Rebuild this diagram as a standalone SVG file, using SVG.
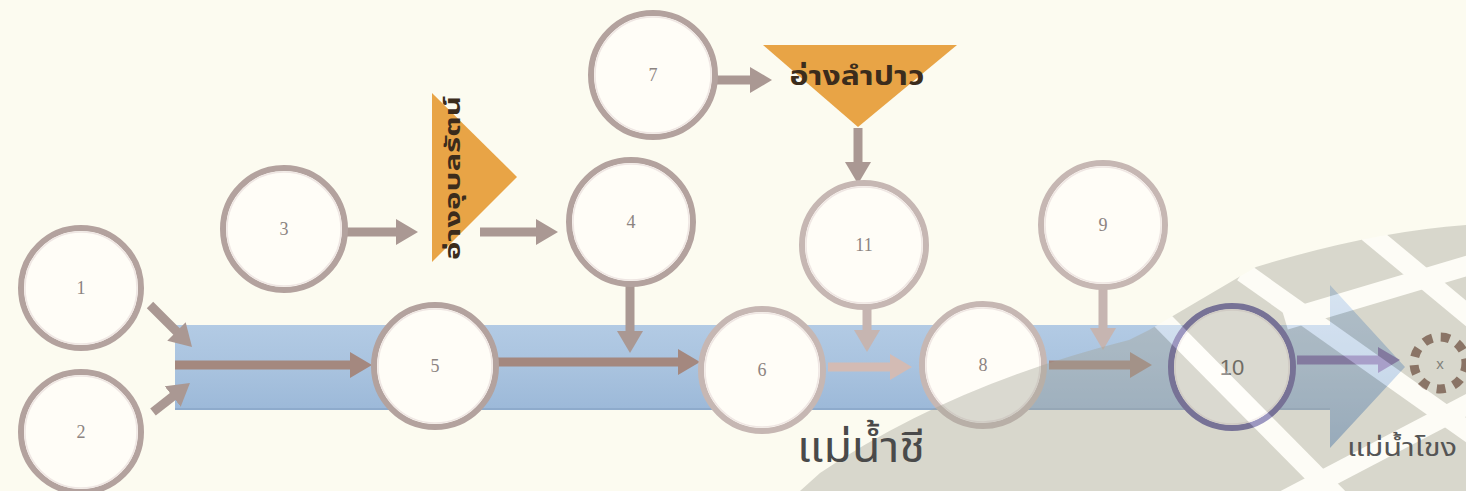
<svg xmlns="http://www.w3.org/2000/svg" width="1466" height="491" viewBox="0 0 1466 491">
<style>
.ring{fill:#fffdf7;stroke:#b3a29e;stroke-width:6}
.ring.lt{stroke:#c6b7b3}
.ring.pu{stroke:#5a5296;stroke-width:6}
.inner{fill:none;stroke:#efe6e3;stroke-width:1.5}
.num{font-family:"Liberation Serif",serif;font-size:18px;fill:#8c8481;text-anchor:middle}
.c{fill:none;stroke-width:9;stroke-linecap:butt}
.g{stroke:#aa9893}
.b{stroke:#a4887f}
.p{stroke:#d3bbb4}
.l{stroke:#c6b5b1}
.v{stroke:#6f60a6}
.th{font-family:"Noto Sans Thai","Noto Sans","DejaVu Sans",sans-serif}
</style>
<defs>
<linearGradient id="band" x1="0" y1="0" x2="0" y2="1">
<stop offset="0" stop-color="#bcd2e9"/>
<stop offset="0.5" stop-color="#a9c3df"/>
<stop offset="1" stop-color="#91b0d3"/>
</linearGradient>
<marker id="mg" markerUnits="userSpaceOnUse" markerWidth="24" markerHeight="26" refX="4" refY="13" orient="auto"><path d="M0,0 L22,13 L0,26 Z" fill="#aa9893"/></marker>
<marker id="mb" markerUnits="userSpaceOnUse" markerWidth="24" markerHeight="26" refX="4" refY="13" orient="auto"><path d="M0,0 L22,13 L0,26 Z" fill="#a4887f"/></marker>
<marker id="mp" markerUnits="userSpaceOnUse" markerWidth="24" markerHeight="26" refX="4" refY="13" orient="auto"><path d="M0,0 L22,13 L0,26 Z" fill="#d3bbb4"/></marker>
<marker id="ml" markerUnits="userSpaceOnUse" markerWidth="24" markerHeight="26" refX="4" refY="13" orient="auto"><path d="M0,0 L22,13 L0,26 Z" fill="#c6b5b1"/></marker>
<marker id="mv" markerUnits="userSpaceOnUse" markerWidth="24" markerHeight="26" refX="4" refY="13" orient="auto"><path d="M0,0 L22,13 L0,26 Z" fill="#6f60a6"/></marker>
<clipPath id="wm"><path d="M800,491 L820,473 Q950,385 1129,340 L1149,330 L1256,267 Q1370,232 1466,225 L1466,491 Z"/></clipPath>
</defs>
<rect width="1466" height="491" fill="#fcfbf0"/>
<g id="river">
<path d="M175,325 H1330 V285 L1405,367 L1330,448 V410 H175 Z" fill="url(#band)"/>
<line x1="175" y1="409" x2="1330" y2="409" stroke="#8eabcc" stroke-width="2"/>
</g>
<g id="connectors">
<line class="c g" x1="150" y1="305" x2="179.3" y2="334.3" marker-end="url(#mg)"/>
<line class="c g" x1="153" y1="412" x2="175.8" y2="394.1" marker-end="url(#mg)"/>
<line class="c b" x1="175" y1="365" x2="354" y2="365" marker-end="url(#mb)"/>
<line class="c b" x1="497" y1="362" x2="682" y2="362" marker-end="url(#mb)"/>
<line class="c g" x1="630" y1="285" x2="630" y2="335" marker-end="url(#mg)"/>
<line class="c p" x1="828" y1="367" x2="894" y2="367" marker-end="url(#mp)"/>
<line class="c l" x1="867" y1="308" x2="867" y2="334" marker-end="url(#ml)"/>
<line class="c b" x1="1049" y1="365" x2="1134" y2="365" marker-end="url(#mb)"/>
<line class="c l" x1="1103" y1="287" x2="1103" y2="332" marker-end="url(#ml)"/>
<line class="c v" x1="1297" y1="360" x2="1382" y2="360" marker-end="url(#mv)"/>
<line class="c g" x1="347" y1="232" x2="400" y2="232" marker-end="url(#mg)"/>
<line class="c g" x1="480" y1="232" x2="540" y2="232" marker-end="url(#mg)"/>
<line class="c g" x1="690" y1="80" x2="754" y2="80" marker-end="url(#mg)"/>
<line class="c g" x1="858" y1="128" x2="858" y2="166" marker-end="url(#mg)"/>
</g>
<g id="node1"><circle class="ring" cx="81" cy="288" r="60"/><circle class="inner" cx="81" cy="288" r="56"/><text class="num" x="81" y="294">1</text></g>
<g id="node2"><circle class="ring" cx="81" cy="432" r="60"/><circle class="inner" cx="81" cy="432" r="56"/><text class="num" x="81" y="438">2</text></g>
<g id="node3"><circle class="ring" cx="284" cy="229" r="61"/><circle class="inner" cx="284" cy="229" r="57"/><text class="num" x="284" y="235">3</text></g>
<g id="node4"><circle class="ring" cx="631" cy="222" r="62"/><circle class="inner" cx="631" cy="222" r="58"/><text class="num" x="631" y="228">4</text></g>
<g id="node5"><circle class="ring" cx="435" cy="366" r="61"/><circle class="inner" cx="435" cy="366" r="57"/><text class="num" x="435" y="372">5</text></g>
<g id="node6"><circle class="ring lt" cx="762" cy="370" r="61"/><circle class="inner" cx="762" cy="370" r="57"/><text class="num" x="762" y="376">6</text></g>
<g id="node7"><circle class="ring" cx="653" cy="75" r="62"/><circle class="inner" cx="653" cy="75" r="58"/><text class="num" x="653" y="81">7</text></g>
<g id="node8"><circle class="ring lt" cx="983" cy="365" r="61"/><circle class="inner" cx="983" cy="365" r="57"/><text class="num" x="983" y="371">8</text></g>
<g id="node9"><circle class="ring lt" cx="1103" cy="225" r="62"/><circle class="inner" cx="1103" cy="225" r="58"/><text class="num" x="1103" y="231">9</text></g>
<g id="node11"><circle class="ring lt" cx="864" cy="245" r="62"/><circle class="inner" cx="864" cy="245" r="58"/><text class="num" x="864" y="251">11</text></g>
<g id="node10"><circle class="ring pu" cx="1232" cy="367" r="61"/><circle class="inner" cx="1232" cy="367" r="57"/><text x="1232" y="375" font-family="Liberation Sans,sans-serif" font-size="22" fill="#4e4944" text-anchor="middle">10</text></g>
<g id="reservoir-ubolratana">
<polygon points="432,93 517,177 432,262" fill="#e8a446"/>
<text class="th" transform="translate(460,178) rotate(-90)" text-anchor="middle" font-size="22" font-weight="bold" fill="#3b2c1c" textLength="164" lengthAdjust="spacingAndGlyphs">อ่างอุบลรัตน์</text>
</g>
<g id="reservoir-lampao">
<polygon points="763,45 957,45 858,127" fill="#e8a446"/>
<text class="th" x="857" y="85" text-anchor="middle" font-size="26" font-weight="bold" fill="#3b2c1c" textLength="135" lengthAdjust="spacingAndGlyphs">อ่างลำปาว</text>
</g>
<g id="node-mekong">
<circle cx="1440" cy="363" r="26" fill="none" stroke="#7b5646" stroke-width="9" stroke-dasharray="9 8.5"/>
<text x="1440" y="369" font-family="Liberation Sans,sans-serif" font-size="15" fill="#6a6a6a" text-anchor="middle">x</text>
</g>
<g id="watermark" opacity="0.4" clip-path="url(#wm)">
<rect x="780" y="200" width="700" height="300" fill="#a3a397"/>
<g stroke="#ffffff" stroke-width="20" fill="none">
<line x1="1160" y1="318" x2="1345" y2="505"/>
<line x1="1243" y1="272" x2="1480" y2="440"/>
<line x1="1368" y1="232" x2="1480" y2="325"/>
<line x1="1285" y1="320" x2="1480" y2="262"/>
<line x1="1285" y1="500" x2="1480" y2="398"/>
</g>
</g>
<g id="labels">
<text class="th" x="797" y="462" font-size="42" fill="#4a4a4a" textLength="128" lengthAdjust="spacingAndGlyphs">แม่น้ำชี</text>
<text class="th" x="1347" y="456" font-size="24" fill="#555555" textLength="110" lengthAdjust="spacingAndGlyphs">แม่น้ำโขง</text>
</g>
</svg>
